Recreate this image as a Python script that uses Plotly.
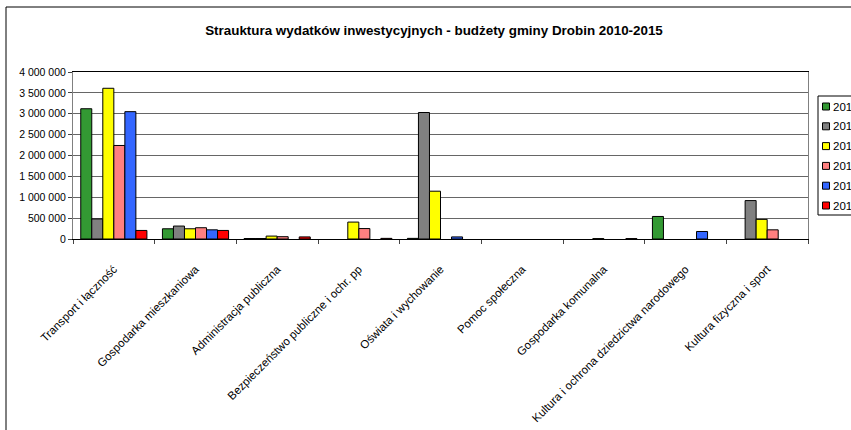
import plotly.graph_objects as go

# dane (None = brak słupka)
kategorie = ["Transport i łączność", "Gospodarka mieszkaniowa", "Administracja publiczna",
             "Bezpieczeństwo publiczne i ochr. pp", "Oświata i wychowanie", "Pomoc społeczna",
             "Gospodarka komunalna", "Kultura i ochrona dziedzictwa narodowego",
             "Kultura fizyczna i sport"]
lata = ["2010", "2011", "2012", "2013", "2014", "2015"]

w2010 = [3120000, 245000, 12000, None, 15000, None, None, 540000, None]
w2011 = [480000, 310000, 12000, None, 3030000, None, None, None, 920000]
w2012 = [3610000, 245000, 70000, 405000, 1145000, None, 10000, None, 470000]
w2013 = [2240000, 270000, 55000, 250000, None, None, None, None, 220000]
w2014 = [3050000, 220000, None, None, 50000, None, None, 180000, None]
w2015 = [205000, 205000, 50000, 15000, None, None, 10000, None, None]
wartosci = [w2010, w2011, w2012, w2013, w2014, w2015]

kolory = ["#339933", "#808080", "#FFFF00", "#FF8080", "#3366FF", "#FF0000"]

W, H = 851, 430
ml, mr, mt, mb = 73, 43, 72, 191
pw, ph = W - ml - mr, H - mt - mb

fig = go.Figure()
for rok, vals, kol in zip(lata, wartosci, kolory):
    fig.add_trace(go.Bar(x=kategorie, y=vals, name=rok, marker_color=kol,
                         marker_line=dict(color="#000000", width=1), showlegend=False))

def px_x(p):
    return (p - ml) / pw

def px_y(p):
    return (H - mb - p) / ph

linia = dict(color="#000000", width=1)
# ramka wykresu (obcięta z prawej i z dołu jak w oryginale)
fig.add_shape(type="line", xref="paper", yref="paper", x0=px_x(6), x1=px_x(W + 5),
              y0=px_y(7), y1=px_y(7), line=linia)
fig.add_shape(type="line", xref="paper", yref="paper", x0=px_x(6), x1=px_x(6),
              y0=px_y(7), y1=px_y(H + 5), line=linia)

# legenda jak w Excelu (wychodzi poza prawą krawędź)
fig.add_shape(type="rect", xref="paper", yref="paper", x0=px_x(818), x1=px_x(W + 20),
              y0=px_y(96), y1=px_y(215), line=linia, fillcolor="white")
for i, (rok, kol) in enumerate(zip(lata, kolory)):
    yc = 106.5 + i * 19.8
    fig.add_shape(type="rect", xref="paper", yref="paper",
                  x0=px_x(822.5), x1=px_x(829.5), y0=px_y(yc - 3.5), y1=px_y(yc + 3.5),
                  line=linia, fillcolor=kol)
    fig.add_annotation(text=rok, xref="paper", yref="paper", x=px_x(831), y=px_y(yc),
                       xanchor="left", yanchor="middle", showarrow=False,
                       font=dict(size=11.5))

fig.update_layout(
    width=W, height=H,
    margin=dict(l=ml, r=mr, t=mt, b=mb, autoexpand=False),
    paper_bgcolor="white", plot_bgcolor="white",
    font=dict(family="Liberation Sans, Arial", size=11, color="#000000"),
    separators=", ",
    title=dict(text="<b>Strauktura wydatków inwestycyjnych - budżety gminy Drobin 2010-2015</b>",
               x=434 / W, xref="container", xanchor="center",
               y=1 - 30 / H, yref="container", yanchor="middle",
               font=dict(size=13.4, family="Liberation Sans, Arial")),
    barmode="group", bargap=0.19, bargroupgap=0,
    showlegend=False,
)
fig.update_xaxes(tickangle=-45, ticks="outside", ticklen=4, tickson="boundaries",
                 showline=True, linecolor="#000000", linewidth=1, mirror=True,
                 tickfont=dict(size=11.5), showgrid=False, ticklabelstandoff=18)
fig.update_yaxes(range=[0, 4000000], dtick=500000, tickformat=",d",
                 ticks="outside", ticklen=4, showline=True, linecolor="#808080",
                 mirror=True, gridcolor="#666666", gridwidth=1,
                 tickfont=dict(size=10.5), zeroline=False)

fig.write_html("out.html", config={"displayModeBar": False},
               post_script="document.body.style.margin='0px';")
